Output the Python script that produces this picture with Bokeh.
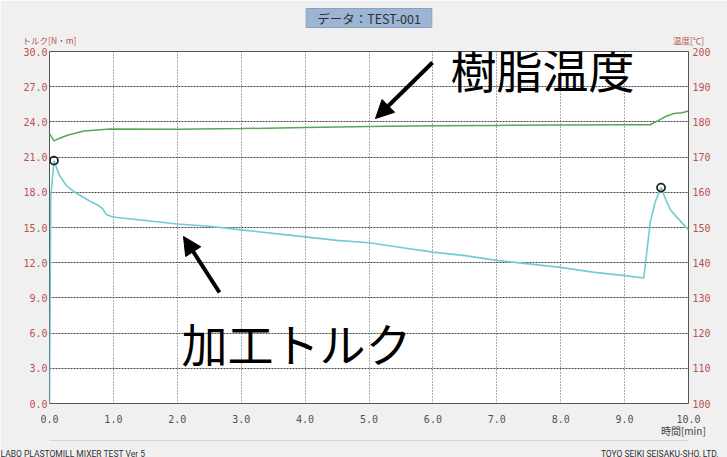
from bokeh.plotting import figure
from bokeh.models import Range1d, LinearAxis, FixedTicker, PrintfTickFormatter, Label, Arrow, NormalHead
from bokeh.embed import file_html
from bokeh.resources import INLINE

# ---- data ----
time_torque = [0.0, 0.02, 0.07, 0.15, 0.26, 0.4, 0.52, 0.65, 0.76, 0.83, 0.89, 0.99,
               1.5, 2.0, 2.5, 3.0, 3.5, 4.0, 4.5, 5.0, 5.5, 6.0, 6.5, 7.0, 7.5, 8.0,
               8.5, 9.0, 9.3, 9.4, 9.48, 9.57, 9.65, 9.72, 9.83, 10.0]
torque = [0.0, 17.6, 20.7, 19.5, 18.6, 18.0, 17.6, 17.2, 16.9, 16.6, 16.1, 15.9,
          15.6, 15.3, 15.1, 14.8, 14.5, 14.2, 13.9, 13.7, 13.3, 12.9, 12.6, 12.2, 11.9, 11.6,
          11.2, 10.9, 10.7, 15.4, 17.2, 18.4, 17.3, 16.5, 15.8, 14.8]

time_temp = [0.0, 0.07, 0.15, 0.28, 0.54, 0.95, 2.0, 3.0, 4.0, 5.0, 6.0, 7.0, 8.0, 9.0,
             9.4, 9.56, 9.65, 9.77, 9.9, 10.0]
temp = [176.7, 174.6, 175.3, 176.2, 177.4, 178.0, 177.9, 178.1, 178.4, 178.7, 178.9, 179.0,
        179.1, 179.2, 179.2, 180.7, 181.6, 182.4, 182.6, 183.1]

peak_time = [0.07, 9.57]
peak_torque = [20.7, 18.4]

x_ticks = [0, 1, 2, 3, 4, 5, 6, 7, 8, 9, 10]
left_ticks = [0, 3, 6, 9, 12, 15, 18, 21, 24, 27, 30]
right_ticks = [100, 110, 120, 130, 140, 150, 160, 170, 180, 190, 200]

title_text = "データ：TEST-001"
left_label = "トルク[N・m]"
right_label = "温度[℃]"
x_label = "時間[min]"
footer_left = "LABO PLASTOMILL MIXER TEST  Ver 5"
footer_right = "TOYO SEIKI SEISAKU-SHO, LTD."
note_temp = "樹脂温度"
note_torque = "加工トルク"

# positions (in x data units) of the texts carried by the extra axes
header_pos = {0: left_label, 10: right_label}
xlabel_pos = {9.92: x_label}
footer_pos = {0.38: footer_left, 9.55: footer_right}

# ---- layout geometry (page pixels) ----
FIG_W, FIG_H = 727, 457
L, T, FW, FH = 49, 51, 639, 352

def dx(px):
    return (px - L) / FW * 10.0

def dy(py):
    return (T + FH - py) / FH * 30.0

p = figure(frame_width=FW, frame_height=FH, output_backend="svg", toolbar_location=None,
           x_range=Range1d(0, 10), y_range=Range1d(0, 30),
           min_border_left=L, min_border_top=T,
           min_border_right=FIG_W - L - FW, min_border_bottom=FIG_H - T - FH)
p.extra_y_ranges = {"temp": Range1d(100, 200)}
xax = p.xaxis[0]
yax = p.yaxis[0]

p.background_fill_color = "white"
p.border_fill_color = "#f0f0f0"
p.outline_line_color = "#555555"
p.outline_line_width = 1

tick_font = "DejaVu Sans Mono"
cjk = "Noto Sans CJK JP"
red = "#b85050"

xax.ticker = FixedTicker(ticks=x_ticks)
xax.formatter = PrintfTickFormatter(format="%.1f")
yax.ticker = FixedTicker(ticks=left_ticks)
yax.formatter = PrintfTickFormatter(format="%.1f")

right = LinearAxis(y_range_name="temp", ticker=FixedTicker(ticks=right_ticks),
                   formatter=PrintfTickFormatter(format="%d"))
p.add_layout(right, "right")

# header axis: carries the two axis titles above the frame
header = LinearAxis(ticker=FixedTicker(ticks=list(header_pos.keys())),
                    major_label_overrides=header_pos)
p.add_layout(header, "above")

# x-axis title and footer texts below the frame
xlab = LinearAxis(ticker=FixedTicker(ticks=list(xlabel_pos.keys())),
                  major_label_overrides=xlabel_pos)
p.add_layout(xlab, "below")
footer = LinearAxis(ticker=FixedTicker(ticks=list(footer_pos.keys())),
                    major_label_overrides=footer_pos)
p.add_layout(footer, "below")

for ax in [xax, yax, right, header, xlab, footer]:
    ax.axis_line_color = None
    ax.major_tick_line_color = None
    ax.minor_tick_line_color = None
    ax.major_tick_out = 0
    ax.major_tick_in = 0
    ax.minor_tick_out = 0
    ax.minor_tick_in = 0
    ax.major_label_text_font = tick_font
    ax.major_label_text_font_size = "10px"

xax.major_label_text_color = "#505050"
xax.major_label_standoff = 11
yax.major_label_text_color = red
yax.major_label_standoff = 2
right.major_label_text_color = red
right.major_label_standoff = 4

header.major_label_text_font = cjk
header.major_label_text_font_size = "8.5px"
header.major_label_text_color = red
header.major_label_standoff = 6

xlab.major_label_text_font = cjk
xlab.major_label_text_font_size = "10px"
xlab.major_label_text_color = "#404040"
xlab.major_label_standoff = -3

footer.major_label_text_font = "Roboto"
footer.major_label_text_font_size = "8.5px"
footer.major_label_text_color = "#303030"
footer.major_label_standoff = 8
footer.axis_line_color = "#d4d4d4"

p.title.text = title_text
p.title.align = "center"
p.title.text_font = cjk
p.title.text_font_size = "12.5px"
p.title.text_font_style = "normal"
p.title.text_color = "#303030"
p.title.background_fill_color = "#9cb5d5"
p.title.border_line_color = "#8aa0bc"
p.title.padding = (11, 0)
p.title.standoff = 6

p.xgrid.ticker = FixedTicker(ticks=x_ticks)
p.ygrid.ticker = FixedTicker(ticks=left_ticks)
p.xgrid.grid_line_color = "#555555"
p.xgrid.grid_line_dash = "1 2"
p.ygrid.grid_line_color = "#444444"
p.ygrid.grid_line_dash = "2 1"

p.line(time_temp, temp, color="#55a855", line_width=1.5, y_range_name="temp")
p.line(time_torque, torque, color="#74cad3", line_width=1.6)
p.scatter(peak_time, peak_torque, marker="circle", size=8, fill_color=None,
          line_color="#222222", line_width=1.8)

p.add_layout(Label(x=dx(450), y=dy(34), text=note_temp, text_align="left",
                   text_baseline="top", text_font=cjk, text_font_size="46px",
                   text_color="black"))
p.add_layout(Label(x=dx(181), y=dy(341), text=note_torque, text_align="left",
                   text_baseline="middle", text_font=cjk, text_font_size="46px",
                   text_color="black"))

p.add_layout(Arrow(x_start=dx(432), y_start=dy(62), x_end=dx(375), y_end=dy(118),
                   line_width=4, line_color="black",
                   end=NormalHead(size=18, fill_color="black", line_color="black")))
p.add_layout(Arrow(x_start=dx(219), y_start=dy(292), x_end=dx(183), y_end=dy(236),
                   line_width=4, line_color="black",
                   end=NormalHead(size=18, fill_color="black", line_color="black")))

open("out.html", "w").write(file_html(p, INLINE))
